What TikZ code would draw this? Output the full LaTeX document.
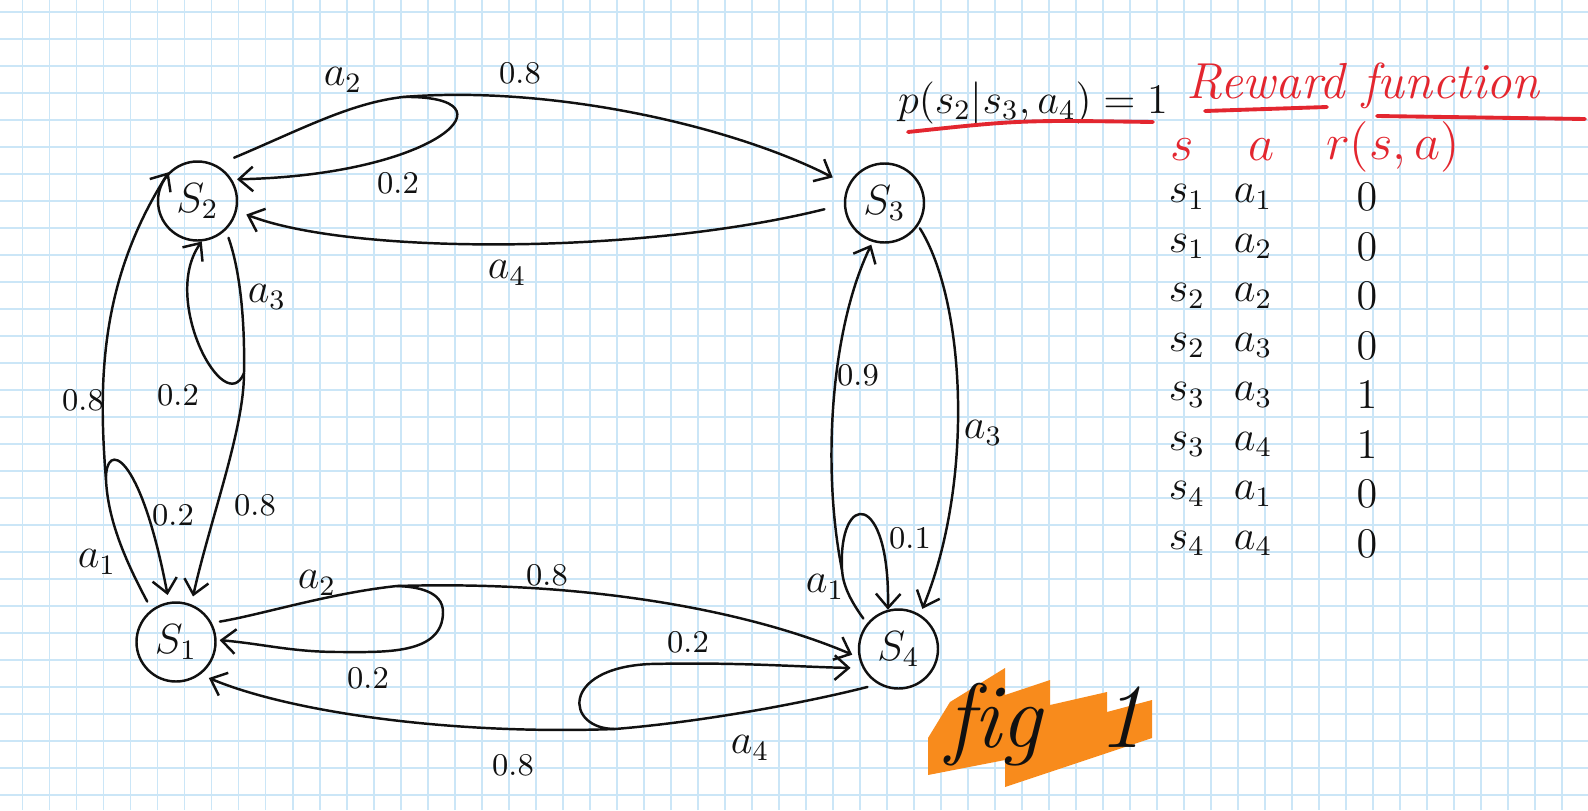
\documentclass[tikz,border=0pt]{standalone}
\usetikzlibrary{arrows.meta}
\definecolor{ink}{HTML}{111111}
\definecolor{gridc}{HTML}{CBE6F7}
\definecolor{pen}{HTML}{E3262F}
\definecolor{hl}{HTML}{F88B1C}
\tikzset{
  state/.style={circle,draw=ink,line width=0.7pt,minimum size=0.79cm,inner sep=0pt,font=\large,text=ink},
  act/.style={line width=0.7pt,ink,line cap=round},
  tr/.style={act,-{Straight Barb[length=4pt,width=7pt]}},
  alab/.style={font=\large,inner sep=1pt,text=ink},
  plab/.style={font=\small,inner sep=1pt,text=ink},
  cell/.style={font=\large,inner sep=1pt,text=ink},
  redt/.style={font=\Large,inner sep=1pt,text=pen},
  redline/.style={pen,line width=1.1pt,line cap=round},
  gridl/.style={gridc,line width=0.45pt}
}
\begin{document}
\begin{tikzpicture}[x=1cm,y=1cm]
\useasboundingbox (0,0) rectangle (15.88,8.10);
\fill[white] (0,0) rectangle (15.88,8.10);
% squared paper
\foreach \i in {0,...,57} \draw[gridl] ({0.227+0.27*\i},0) -- ++(0,8.10);
\foreach \j in {0,...,29} \draw[gridl] (0,{7.98-0.27*\j}) -- ++(15.88,0);
% states
\node[state] (s2) at (1.975,6.09) {$S_2$};
\node[state] (s3) at (8.845,6.07) {$S_3$};
\node[state] (s1) at (1.76,1.68)  {$S_1$};
\node[state] (s4) at (8.985,1.61) {$S_4$};
% split points of the actions
\coordinate (a2up) at (4.03,7.13);
\coordinate (a3sp) at (2.44,4.37);
\coordinate (a1lf) at (1.06,3.30);
\coordinate (a2dn) at (3.97,2.24);
\coordinate (a4dn) at (6.15,0.81);
\coordinate (a1rt) at (8.42,2.40);
% s2, action a2
\draw[act,shorten <=0.19cm] (s2.62) .. controls (3.0,6.8) and (3.5,7.07) .. (a2up);
\draw[tr,shorten >=0.17cm] (a2up) .. controls (5.5,7.25) and (7.3,6.85) .. (s3.154);
\draw[tr,shorten >=0.05cm] (a2up) .. controls (5.2,7.15) and (4.4,6.35) .. (s2.32);
% s3, action a4
\draw[tr,shorten <=0.2cm,shorten >=0.1cm] (s3.182) .. controls (6.4,5.55) and (3.5,5.55) .. (s2.-14);
% s2, action a3
\draw[act,shorten <=0.08cm] (s2.-46) .. controls (2.40,5.40) and (2.45,4.90) .. (a3sp);
\draw[tr] (a3sp) .. controls (2.25,3.90) and (1.60,5.10) .. (s2.-84);
\draw[tr,shorten >=0.08cm] (a3sp) .. controls (2.44,3.80) and (2.10,2.90) .. (s1.68);
% s1, action a1
\draw[act,shorten <=0.09cm] (s1.127) .. controls (1.25,2.50) and (1.08,2.90) .. (a1lf);
\draw[tr,shorten >=0.07cm] (a1lf) .. controls (1.05,3.70) and (1.40,3.60) .. (s1.100);
\draw[tr] (a1lf) .. controls (0.98,4.30) and (1.00,5.30) .. (s2.135);
% s1, action a2
\draw[act,shorten <=0.08cm] (s1.28) .. controls (2.60,1.95) and (3.30,2.17) .. (a2dn);
\draw[tr,shorten >=0.07cm] (a2dn) .. controls (6.0,2.30) and (7.6,1.95) .. (s4.192);
\draw[tr,shorten >=0.03cm] (a2dn) to[out=-2,in=90] (4.43,1.98) to[out=-90,in=0] (3.40,1.58) to[out=180,in=-5] (s1.3);
% s4, action a4
\draw[act,shorten <=0.11cm] (s4.-120) .. controls (8.0,1.06) and (7.0,0.88) .. (a4dn);
\draw[tr,shorten >=0.09cm] (a4dn) .. controls (4.5,0.75) and (2.9,0.98) .. (s1.-53);
\draw[tr,shorten >=0.12cm] (a4dn) .. controls (5.65,0.81) and (5.60,1.42) .. (6.50,1.46) .. controls (7.40,1.48) and (8.0,1.43) .. (s4.208);
% s4, action a1
\draw[act,shorten <=0.06cm] (s4.141) .. controls (8.50,2.10) and (8.43,2.25) .. (a1rt);
\draw[tr] (a1rt) .. controls (8.38,3.20) and (8.90,3.20) .. (s4.105);
\draw[tr,shorten >=0.03cm] (a1rt) .. controls (8.22,3.40) and (8.30,4.80) .. (s3.-107);
% s3, action a3
\draw[tr,shorten <=0.03cm,shorten >=0.06cm] (s3.-34) .. controls (9.65,5.10) and (9.75,3.30) .. (s4.58);
% labels
\node[alab] (la2u) at (3.43,7.30) {$a_2$};
\node[plab] (p8u)  at (5.20,7.37) {0.8};
\node[plab] (p2u)  at (3.98,6.27) {0.2};
\node[alab] (la4u) at (5.07,5.37) {$a_4$};
\node[alab] (la3l) at (2.67,5.13) {$a_3$};
\node[plab] (p2l)  at (1.78,4.15) {0.2};
\node[plab] (p8l)  at (2.55,3.05) {0.8};
\node[plab] (p8ll) at (0.83,4.10) {0.8};
\node[alab] (la1l) at (0.97,2.48) {$a_1$};
\node[plab] (p2ll) at (1.73,2.95) {0.2};
\node[alab] (la2d) at (3.17,2.27) {$a_2$};
\node[plab] (p8d)  at (5.47,2.35) {0.8};
\node[plab] (p2d)  at (3.68,1.32) {0.2};
\node[alab] (la4d) at (7.50,0.62) {$a_4$};
\node[plab] (p8dd) at (5.13,0.45) {0.8};
\node[plab] (p2dd) at (6.88,1.68) {0.2};
\node[alab] (la1r) at (8.25,2.23) {$a_1$};
\node[plab] (p1r)  at (9.10,2.72) {0.1};
\node[plab] (p9r)  at (8.58,4.35) {0.9};
\node[alab] (la3r) at (9.83,3.77) {$a_3$};
% note and reward table
\node[cell] (pnote) at (10.33,7.07) {$p(s_2|s_3,a_4)=1$};
\draw[redline] (9.08,6.78) .. controls (10.2,6.90) .. (11.53,6.88);
\node[redt,font=\Large\itshape] (rhead) at (13.63,7.24) {Reward function};
\draw[redline] (12.05,6.99) -- (13.27,7.03);
\draw[redline] (13.77,6.94) -- (15.85,6.91);
\node[redt] (hs) at (11.82,6.60) {$s$};
\node[redt] (ha) at (12.61,6.60) {$a$};
\node[redt] (hr) at (13.93,6.63) {$r(s,a)$};
\foreach \s/\a/\r [count=\k] in {1/1/0,1/2/0,2/2/0,2/3/0,3/3/1,3/4/1,4/1/0,4/4/0} {
  \node[cell] (ts\k) at (11.87,{6.625-0.495*\k}) {$s_{\s}$};
  \node[cell] (ta\k) at (12.53,{6.625-0.495*\k}) {$a_{\a}$};
  \node[cell] (tr\k) at (13.67,{6.625-0.495*\k}) {$\r$};
}
% caption
\fill[hl] (9.28,0.35) -- (10.05,0.50) -- (10.05,0.23) -- (11.52,0.72) -- (11.52,1.10) -- (11.07,0.98) -- (11.07,1.18) -- (10.50,1.05) -- (10.50,1.30) -- (10.05,1.15) -- (10.05,1.42) -- (9.50,1.08) -- (9.28,0.72) -- cycle;
\node[text=ink,font=\fontsize{26}{26}\selectfont\itshape] (fig) at (10.45,0.85) {f\kern0pt ig\hspace{16pt}1};
\end{tikzpicture}
\end{document}
